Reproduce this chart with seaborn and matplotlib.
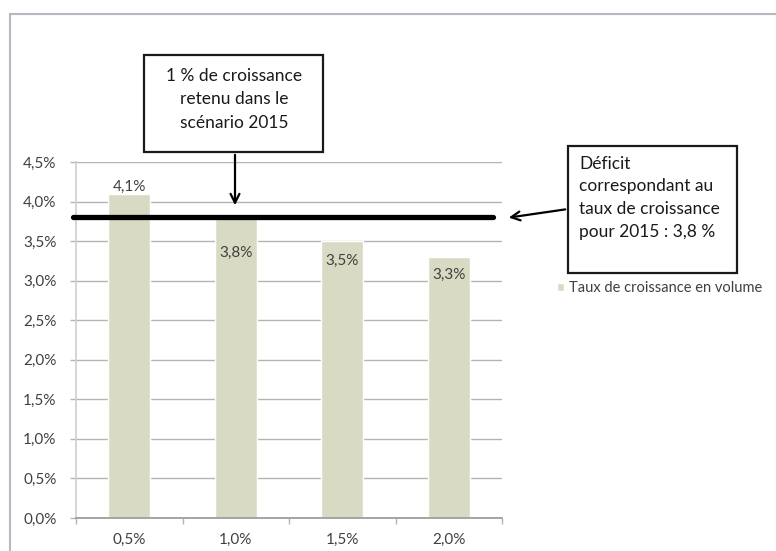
import matplotlib
matplotlib.use("Agg")
import matplotlib.pyplot as plt
import seaborn as sns
import pandas as pd
from matplotlib.patches import Rectangle
from matplotlib.ticker import FuncFormatter, FixedLocator

# ---- data ----
categories = ["0,5%", "1,0%", "1,5%", "2,0%"]
values = [0.041, 0.038, 0.035, 0.033]
value_labels = ["4,1%", "3,8%", "3,5%", "3,3%"]
deficit_level = 0.038
series_name = "Taux de croissance en volume"
box1_lines = ["1 % de croissance", "retenu dans le", "scénario 2015"]
box2_lines = ["Déficit", "correspondant au", "taux de croissance", "pour 2015 : 3,8 %"]
yticks = [0.0, 0.005, 0.01, 0.015, 0.02, 0.025, 0.03, 0.035, 0.04, 0.045]

# ---- style ----
label_offsets_px = [7, -36, -20, -18]
W, H = 776, 551
bar_color = "#d9dac3"
txt = "#404040"

sns.set_theme(style="white")
plt.rcParams["font.family"] = ["Lato", "DejaVu Sans"]

fig = plt.figure(figsize=(W / 100, H / 100), dpi=100)

def fx(px):
    return px / W

def fy(py):
    return 1 - py / H

ax = fig.add_axes([fx(76), fy(518), fx(502) - fx(76), fy(162) - fy(518)])

df = pd.DataFrame({"cat": categories, "val": values})
sns.barplot(data=df, x="cat", y="val", color=bar_color, width=0.39,
            saturation=1, ax=ax, label=series_name, zorder=2)

ax.set_xlim(-0.5, len(categories) - 0.5)
ax.set_ylim(0, 0.045)
ax.yaxis.set_major_locator(FixedLocator(yticks))
ax.yaxis.set_major_formatter(FuncFormatter(lambda v, p: f"{v*100:.1f}%".replace(".", ",")))
ax.grid(axis="y", color="#b4b4b4", lw=1, zorder=0)
ax.grid(axis="x", visible=False)
ax.set_xlabel("")
ax.set_ylabel("")

for s in ["top", "right"]:
    ax.spines[s].set_visible(False)
ax.spines["left"].set_color("#d0d0d0")
ax.spines["bottom"].set_color("#9a9a9a")
ax.spines["bottom"].set_zorder(3)

ax.set_xticks([i - 0.5 for i in range(len(categories) + 1)], minor=True)
ax.tick_params(axis="x", which="major", length=0, pad=11, labelsize=11, labelcolor=txt)
ax.tick_params(axis="x", which="minor", length=4, width=1, color="#b4b4b4", direction="out", bottom=True)
ax.tick_params(axis="y", length=4, width=1, color="#b4b4b4", direction="out", left=True,
               pad=10, labelsize=11, labelcolor=txt)

for i, (v, lab) in enumerate(zip(values, value_labels)):
    ax.annotate(lab, (i, v), xytext=(0, label_offsets_px[i]), textcoords="offset pixels",
                ha="center", va="center", fontsize=11, color=txt, zorder=5)

# thick deficit line
ax.axhline(deficit_level, xmin=-0.007, xmax=0.979, color="black", lw=3.8, clip_on=False, zorder=4)

# legend
ax.legend(loc="center left", bbox_to_anchor=(fx(557), fy(288)), bbox_transform=fig.transFigure,
          frameon=False, fontsize=10.5, handlelength=0.5, handleheight=0.5, handletextpad=0.35,
          labelcolor=txt, borderpad=0, borderaxespad=0)

# outer frame
fig.patches.append(Rectangle((fx(10), fy(600)), fx(800) - fx(10), fy(14) - fy(600),
                             transform=fig.transFigure, fill=False, edgecolor="#b8b8c2",
                             lw=1.5, zorder=0))

# box 1
fig.patches.append(Rectangle((fx(144), fy(152)), fx(323) - fx(144), fy(55) - fy(152),
                             transform=fig.transFigure, facecolor="white", edgecolor="#1a1a1a",
                             lw=1.6, zorder=6))
for k, line in enumerate(box1_lines):
    fig.text(fx(234), fy(76 + 23.5 * k), line, ha="center", va="center", fontsize=12.5,
             color="#1a1a1a", zorder=7)
ax.annotate("", xy=(fx(235), fy(208)), xytext=(fx(235), fy(152)),
            xycoords="figure fraction", textcoords="figure fraction",
            arrowprops=dict(arrowstyle="->", color="black", lw=1.6, mutation_scale=16), zorder=7)

# box 2
fig.patches.append(Rectangle((fx(568), fy(273)), fx(737) - fx(568), fy(146) - fy(273),
                             transform=fig.transFigure, facecolor="white", edgecolor="#1a1a1a",
                             lw=1.6, zorder=6))
for k, line in enumerate(box2_lines):
    fig.text(fx(579), fy(164 + 22.5 * k), line, ha="left", va="center", fontsize=12.5,
             color="#1a1a1a", zorder=7)
ax.annotate("", xy=(fx(506), fy(218)), xytext=(fx(568), fy(209)),
            xycoords="figure fraction", textcoords="figure fraction",
            arrowprops=dict(arrowstyle="->", color="black", lw=1.6, mutation_scale=16), zorder=7)

fig.savefig("out.png", dpi=100)
